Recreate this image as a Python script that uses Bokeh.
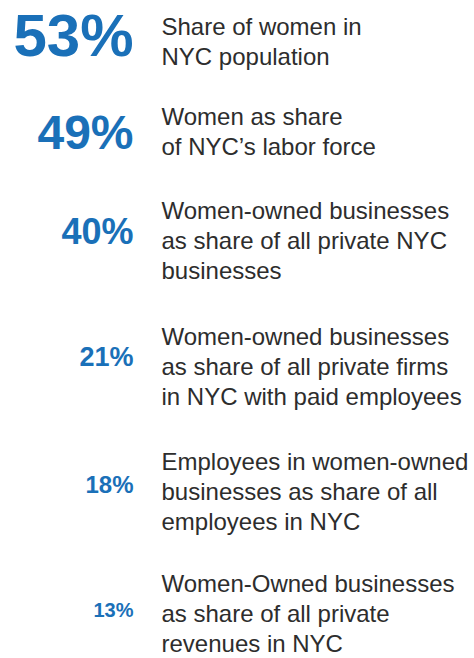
from bokeh.plotting import figure
from bokeh.models import Range1d, ColumnDataSource
from bokeh.core.properties import value
from bokeh.embed import file_html
from bokeh.resources import INLINE

# ---- data ----
values = [53, 49, 40, 21, 18, 13]
labels = [
    ["Share of women in", "NYC population"],
    ["Women as share", "of NYC\u2019s labor force"],
    ["Women-owned businesses", "as share of all private NYC", "businesses"],
    ["Women-owned businesses", "as share of all private firms", "in NYC with paid employees"],
    ["Employees in women-owned", "businesses as share of all", "employees in NYC"],
    ["Women-Owned businesses", "as share of all private", "revenues in NYC"],
]

# ---- layout / style constants (pixels from top-left of the figure) ----
W, H = 474, 658
num_right_x = 133
label_left_x = 161
num_baseline = [57, 149.5, 243.5, 366.5, 492.5, 616.5]
label_first_baseline = [35, 125, 219, 345, 469.5, 592]
line_step = 30
num_font_px = [60, 48, 36, 27, 24, 20]
label_font_px = 24
shift = 0.36          # vertical offset of the rendered text box, in em
blue = "#1a70b8"
grey = "#2d2d2d"

p = figure(width=W, height=H, output_backend="svg", toolbar_location=None,
           title=None,
           x_range=Range1d(0, W), y_range=Range1d(H, 0), min_border=0,
           background_fill_color="white", border_fill_color="white")
p.axis.visible = False
p.grid.visible = False
p.outline_line_color = None

for i, v in enumerate(values):
    fs = num_font_px[i]
    src = ColumnDataSource(dict(x=[num_right_x], y=[num_baseline[i] - shift * fs],
                                t=[f"{v}%"]))
    p.text(x="x", y="y", text="t", source=src, text_align="right",
           text_baseline="alphabetic", text_color=blue,
           text_font=value("Liberation Sans"), text_font_style="bold",
           text_font_size=f"{fs}px")
    lines = labels[i]
    src2 = ColumnDataSource(dict(
        x=[label_left_x] * len(lines),
        y=[label_first_baseline[i] + k * line_step - shift * label_font_px
           for k in range(len(lines))],
        t=lines))
    p.text(x="x", y="y", text="t", source=src2, text_align="left",
           text_baseline="alphabetic", text_color=grey,
           text_font=value("Liberation Sans"), text_font_size=f"{label_font_px}px")

open("out.html", "w").write(file_html(p, INLINE))
